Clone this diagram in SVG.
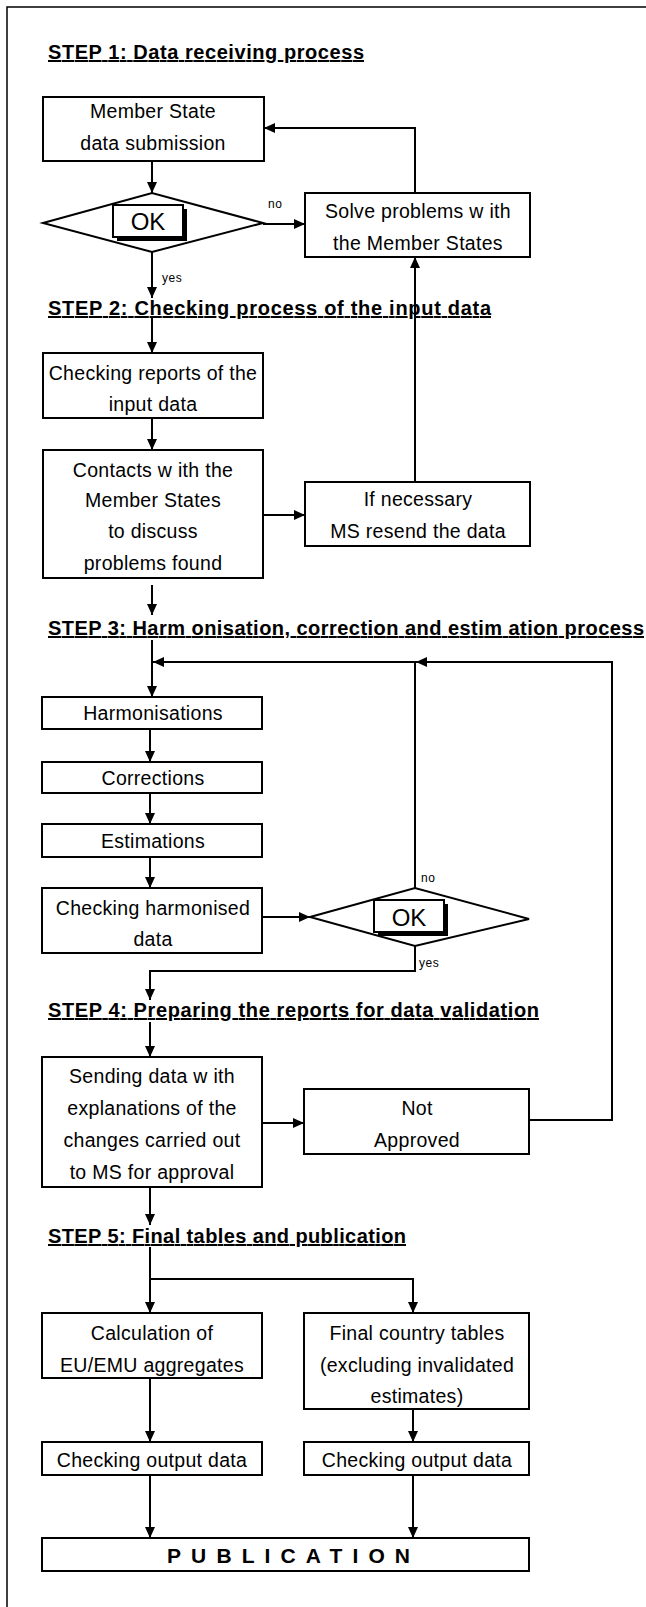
<svg xmlns="http://www.w3.org/2000/svg" width="646" height="1607" viewBox="0 0 646 1607">
<style>
.box{fill:#fff;stroke:#000;stroke-width:2}
.sh{fill:#000}
.t{font-family:"Liberation Sans",Arial,sans-serif;font-size:19.5px;letter-spacing:0.3px;text-anchor:middle;fill:#000}
.h{font-family:"Liberation Sans",Arial,sans-serif;font-size:20px;font-weight:bold;text-decoration:underline;fill:#000}
.ok{font-family:"Liberation Sans",Arial,sans-serif;font-size:24px;text-anchor:middle;fill:#000}
.lb{font-family:"Liberation Sans",Arial,sans-serif;font-size:12px;letter-spacing:0.6px;fill:#000}
.c{fill:none;stroke:#000;stroke-width:2}
.a{marker-end:url(#ah)}
</style>
<defs>
<marker id="ah" markerWidth="11" markerHeight="10" refX="11" refY="5" orient="auto" markerUnits="userSpaceOnUse"><path d="M0,0 L11,5 L0,10 z" fill="#000"/></marker>
</defs>
<rect width="646" height="1607" fill="#fff"/>
<path d="M7,1607 V7 H646" fill="none" stroke="#000" stroke-width="1.5"/>

<g id="headings">
<text class="h" x="48" y="59" textLength="316" lengthAdjust="spacing">STEP 1: Data receiving process</text>
<text class="h" x="48" y="315" textLength="443" lengthAdjust="spacing">STEP 2: Checking process of the input data</text>
<text class="h" x="48" y="635" textLength="596" lengthAdjust="spacing">STEP 3: Harm onisation, correction and estim ation process</text>
<text class="h" x="48" y="1017" textLength="491" lengthAdjust="spacing">STEP 4: Preparing the reports for data validation</text>
<text class="h" x="48" y="1243" textLength="358" lengthAdjust="spacing">STEP 5: Final tables and publication</text>
</g>

<g id="connectors">
<path class="c a" d="M152,161 V193"/>
<path class="c a" d="M263,224 H305"/>
<path class="c a" d="M415,193 V128 H264"/>
<path class="c a" d="M152,252 V298"/>
<path class="c a" d="M152,318 V353"/>
<path class="c a" d="M152,418 V450"/>
<path class="c a" d="M263,515 H305"/>
<path class="c a" d="M415,482 V257"/>
<path class="c a" d="M152,585 V615"/>
<path class="c a" d="M152,640 V697"/>
<path class="c a" d="M529,1120 H612 V662 H416"/>
<path class="c a" d="M415,888 V662 H153"/>
<path class="c a" d="M150,729 V762"/>
<path class="c a" d="M150,793 V824"/>
<path class="c a" d="M150,857 V888"/>
<path class="c a" d="M262,917 H310"/>
<path class="c a" d="M415,946 V971 H150 V1000"/>
<path class="c a" d="M150,1022 V1057"/>
<path class="c a" d="M262,1123 H304"/>
<path class="c a" d="M150,1187 V1225"/>
<path class="c a" d="M150,1247 V1313"/>
<path class="c a" d="M150,1279 H413 V1313"/>
<path class="c a" d="M150,1378 V1442"/>
<path class="c a" d="M413,1409 V1442"/>
<path class="c a" d="M150,1475 V1538"/>
<path class="c a" d="M413,1475 V1538"/>
</g>

<g id="n-submission">
<rect class="box" x="43" y="97" width="221" height="64"/>
<text class="t" x="153" y="118">Member State</text>
<text class="t" x="153" y="150">data submission</text>
</g>

<g id="n-ok1">
<polygon class="box" points="43,223 152,193 263,223 152,252"/>
<rect class="sh" x="117" y="209" width="70" height="32"/>
<rect class="box" x="113" y="205" width="70" height="32"/>
<text class="ok" x="148" y="230">OK</text>
<text class="lb" x="268" y="208">no</text>
<text class="lb" x="162" y="282">yes</text>
</g>

<g id="n-solve">
<rect class="box" x="305" y="193" width="225" height="64"/>
<text class="t" x="418" y="218">Solve problems w ith</text>
<text class="t" x="418" y="250">the Member States</text>
</g>

<g id="n-checkreports">
<rect class="box" x="43" y="353" width="220" height="65"/>
<text class="t" x="153" y="380">Checking reports of the</text>
<text class="t" x="153" y="411">input data</text>
</g>

<g id="n-contacts">
<rect class="box" x="43" y="450" width="220" height="128"/>
<text class="t" x="153" y="477">Contacts w ith the</text>
<text class="t" x="153" y="507">Member States</text>
<text class="t" x="153" y="538">to discuss</text>
<text class="t" x="153" y="570">problems found</text>
</g>

<g id="n-resend">
<rect class="box" x="305" y="482" width="225" height="64"/>
<text class="t" x="418" y="506">If necessary</text>
<text class="t" x="418" y="538">MS resend the data</text>
</g>

<g id="n-harmonisations">
<rect class="box" x="42" y="697" width="220" height="32"/>
<text class="t" x="153" y="720">Harmonisations</text>
</g>

<g id="n-corrections">
<rect class="box" x="42" y="762" width="220" height="31"/>
<text class="t" x="153" y="785">Corrections</text>
</g>

<g id="n-estimations">
<rect class="box" x="42" y="824" width="220" height="33"/>
<text class="t" x="153" y="848">Estimations</text>
</g>

<g id="n-checkharm">
<rect class="box" x="42" y="888" width="220" height="65"/>
<text class="t" x="153" y="915">Checking harmonised</text>
<text class="t" x="153" y="946">data</text>
</g>

<g id="n-ok2">
<polygon class="box" points="310,917 415,888 529,919 415,946"/>
<rect class="sh" x="378" y="904" width="70" height="32"/>
<rect class="box" x="374" y="900" width="70" height="32"/>
<text class="ok" x="409" y="926">OK</text>
<text class="lb" x="421" y="882">no</text>
<text class="lb" x="419" y="967">yes</text>
</g>

<g id="n-sending">
<rect class="box" x="42" y="1057" width="220" height="130"/>
<text class="t" x="152" y="1083">Sending data w ith</text>
<text class="t" x="152" y="1115">explanations of the</text>
<text class="t" x="152" y="1147">changes carried out</text>
<text class="t" x="152" y="1179">to MS for approval</text>
</g>

<g id="n-notapproved">
<rect class="box" x="304" y="1089" width="225" height="65"/>
<text class="t" x="417" y="1115">Not</text>
<text class="t" x="417" y="1147">Approved</text>
</g>

<g id="n-calc">
<rect class="box" x="42" y="1313" width="220" height="65"/>
<text class="t" x="152" y="1340">Calculation of</text>
<text class="t" x="152" y="1372">EU/EMU aggregates</text>
</g>

<g id="n-final">
<rect class="box" x="304" y="1313" width="225" height="96"/>
<text class="t" x="417" y="1340">Final country tables</text>
<text class="t" x="417" y="1372">(excluding invalidated</text>
<text class="t" x="417" y="1403">estimates)</text>
</g>

<g id="n-checkout1">
<rect class="box" x="42" y="1442" width="220" height="33"/>
<text class="t" x="152" y="1467">Checking output data</text>
</g>

<g id="n-checkout2">
<rect class="box" x="304" y="1442" width="225" height="33"/>
<text class="t" x="417" y="1467">Checking output data</text>
</g>

<g id="n-publication">
<rect class="box" x="42" y="1538" width="487" height="33"/>
<text x="167" y="1563" textLength="243" lengthAdjust="spacing" style="font-family:'Liberation Sans',Arial,sans-serif;font-size:21px;font-weight:bold">PUBLICATION</text>
</g>
</svg>
